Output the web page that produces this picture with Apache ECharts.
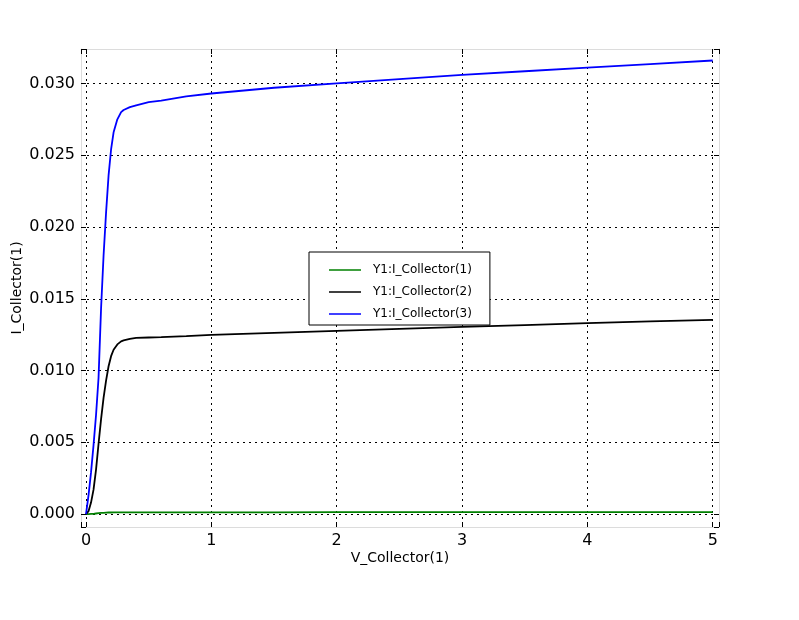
<!DOCTYPE html>
<html>
<head>
<meta charset="utf-8">
<script src="https://cdn.jsdelivr.net/npm/echarts@6/dist/echarts.min.js"></script>
<style>
html,body{margin:0;padding:0;background:#fff;}
#chart{width:799px;height:620px;}
</style>
</head>
<body>
<div id="chart"></div>
<script>
// ---- data ----
const vCollector = [0, 0.02, 0.04, 0.06, 0.08, 0.10, 0.12, 0.14, 0.16, 0.18, 0.20, 0.22, 0.25, 0.28, 0.30, 0.35, 0.40, 0.50, 0.60, 0.80, 1.0, 1.5, 2.0, 2.5, 3.0, 3.5, 4.0, 4.5, 5.0];
const iCollector1 = [0, 0, 0.00001, 0.00002, 0.00004, 0.00006, 0.00008, 0.00009, 0.0001, 0.00011, 0.00011, 0.00012, 0.00012, 0.00012, 0.00012, 0.00012, 0.00012, 0.00012, 0.00012, 0.00012, 0.00012, 0.000125, 0.00013, 0.00013, 0.000135, 0.000135, 0.00014, 0.00014, 0.00014];
const iCollector2 = [0, 0.0002, 0.0008, 0.0017, 0.0031, 0.0049, 0.0066, 0.0081, 0.0093, 0.0103, 0.0110, 0.01145, 0.01182, 0.01203, 0.0121, 0.01221, 0.01227, 0.0123, 0.01233, 0.0124, 0.01248, 0.01262, 0.01276, 0.0129, 0.01304, 0.01317, 0.0133, 0.01342, 0.01353];
const iCollector3 = [0, 0.0013, 0.0029, 0.0048, 0.0069, 0.0095, 0.0143, 0.0180, 0.0210, 0.0236, 0.0254, 0.0266, 0.0275, 0.0280, 0.02815, 0.02835, 0.02848, 0.0287, 0.0288, 0.0291, 0.0293, 0.0297, 0.0300, 0.0303, 0.0306, 0.03085, 0.0311, 0.03135, 0.0316];
const seriesNames = ['Y1:I_Collector(1)', 'Y1:I_Collector(2)', 'Y1:I_Collector(3)'];
const seriesColors = ['#008000', '#000000', '#0000ff'];
const xTickValues = [0, 1, 2, 3, 4, 5];
const yTickLabels = ['0.000', '0.005', '0.010', '0.015', '0.020', '0.025', '0.030'];

const pair = (ys) => vCollector.map((v, i) => [v, ys[i]]);
const FONT = 'DejaVu Sans';
const xMin = -0.04, xMax = 5.05, yMin = -0.0009, yMax = 0.0324;

const chart = echarts.init(document.getElementById('chart'), null, {renderer: 'canvas'});
const isMult = (v, step) => Math.abs(v / step - Math.round(v / step)) < 1e-6;

const commonX = {
  type: 'value', min: xMin, max: xMax, splitNumber: 5,
  axisLine: {show: true, onZero: false, lineStyle: {color: '#dcdcdc', width: 1}},
  axisTick: {show: true, inside: true, length: 5, lineStyle: {color: '#000'}},
};
const commonY = {
  type: 'value', min: yMin, max: yMax, splitNumber: 7,
  axisLine: {show: true, onZero: false, lineStyle: {color: '#dcdcdc', width: 1}},
  axisTick: {show: true, inside: true, length: 5, lineStyle: {color: '#000'}},
};

chart.setOption({
  animation: false,
  backgroundColor: '#fff',
  grid: {left: 81, top: 49, right: 80, bottom: 93, containLabel: false, outerBoundsMode: 'none'},
  xAxis: [
    Object.assign({}, commonX, {
      position: 'bottom',
      name: 'V_Collector(1)', nameLocation: 'middle', nameGap: 24, nameMoveOverlap: false,
      nameTextStyle: {fontFamily: FONT, fontSize: 14, color: '#000'},
      axisLabel: {
        show: true, fontFamily: FONT, fontSize: 16, color: '#000', margin: 6,
        formatter: (v) => (isMult(v, 1) && xTickValues.indexOf(Math.round(v)) >= 0) ? String(Math.round(v)) : ''
      },
      splitLine: {show: true, showMinLine: false, showMaxLine: false, lineStyle: {color: '#000', type: [2, 4], width: 1}}
    }),
    Object.assign({}, commonX, {
      position: 'top', axisLabel: {show: false}, splitLine: {show: false}
    })
  ],
  yAxis: [
    Object.assign({}, commonY, {
      position: 'left',
      name: 'I_Collector(1)', nameLocation: 'middle', nameGap: 57, nameRotate: 90, nameMoveOverlap: false,
      nameTextStyle: {fontFamily: FONT, fontSize: 14, color: '#000'},
      axisLabel: {
        show: true, fontFamily: FONT, fontSize: 16, color: '#000', margin: 6,
        formatter: (v) => {
          if (!isMult(v, 0.005)) return '';
          const idx = Math.round(v / 0.005);
          return yTickLabels[idx] !== undefined ? yTickLabels[idx] : '';
        }
      },
      splitLine: {show: true, showMinLine: false, showMaxLine: false, lineStyle: {color: '#000', type: [2, 4], width: 1}}
    }),
    Object.assign({}, commonY, {
      position: 'right', axisLabel: {show: false}, splitLine: {show: false}
    })
  ],
  legend: {
    orient: 'vertical', left: 309, top: 252,
    width: 150,
    padding: [11, 18, 4, 20],
    backgroundColor: '#fff',
    borderColor: '#000', borderWidth: 1, borderRadius: 0,
    icon: 'rect',
    itemWidth: 32, itemHeight: 1.5, itemGap: 8,
    textStyle: {fontFamily: FONT, fontSize: 12, color: '#000', lineHeight: 14, padding: [0, 0, 0, 7]},
    data: seriesNames
  },
  series: seriesNames.map((name, k) => ({
    name: name, type: 'line', xAxisIndex: 0, yAxisIndex: 0,
    data: pair([iCollector1, iCollector2, iCollector3][k]),
    symbol: 'none', smooth: false,
    lineStyle: {color: seriesColors[k], width: 1.8},
    itemStyle: {color: seriesColors[k]},
    z: 3
  }))
});
</script>
</body>
</html>
